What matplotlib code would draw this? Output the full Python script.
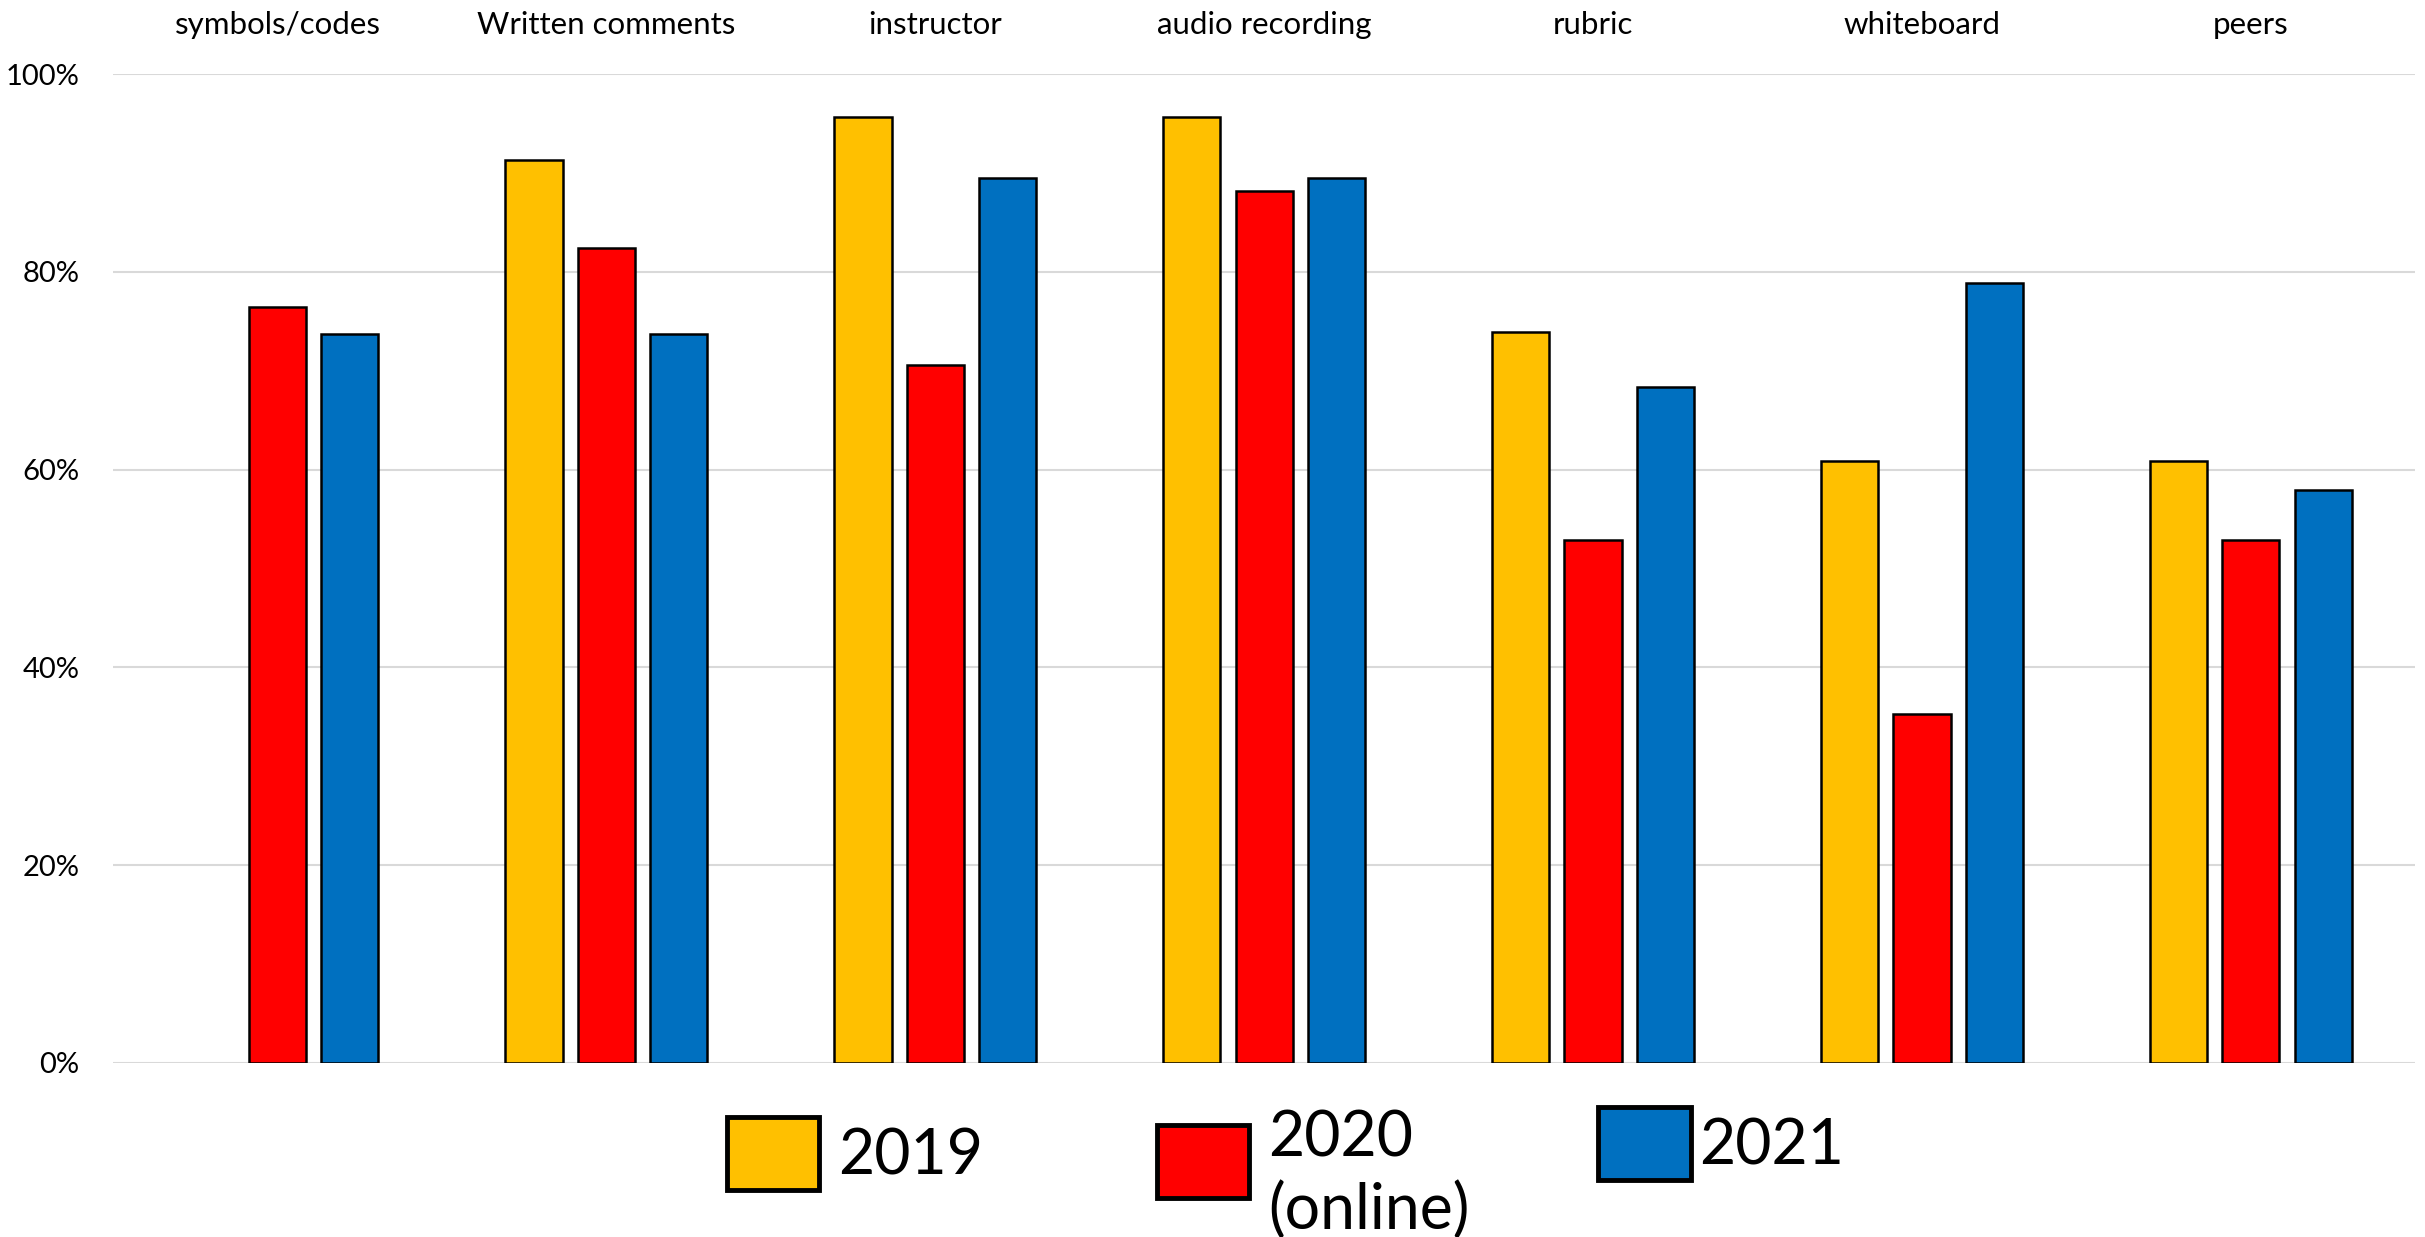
import numpy as np
import matplotlib
matplotlib.use("Agg")
import matplotlib.pyplot as plt
from matplotlib.ticker import PercentFormatter
from matplotlib.container import BarContainer
from matplotlib.patches import Rectangle
from matplotlib.legend_handler import HandlerPatch, update_from_first_child

plt.rcParams['font.family'] = ['Lato', 'DejaVu Sans']

categories = ["symbols/codes", "Written comments", "instructor", "audio recording",
              "rubric", "whiteboard", "peers"]
series_names = ["2019", "2020\n(online)", "2021"]
vals_2019 = [np.nan, 91.3, 95.7, 95.7, 73.9, 60.9, 60.9]
vals_2020 = [76.5, 82.4, 70.6, 88.2, 52.9, 35.3, 52.9]
vals_2021 = [73.7, 73.7, 89.5, 89.5, 68.4, 78.9, 57.9]
colors = ["#FFC000", "#FF0000", "#0070C0"]
yticks = [0, 20, 40, 60, 80, 100]

fig = plt.figure(figsize=(24.25, 12.37), dpi=100)
ax = fig.add_axes([0.0466, 0.1407, 0.9494, 0.7993])

x = np.arange(len(categories))
offsets = [-0.22, 0.0, 0.22]
width = 0.174
handles = []
for vals, off, col, name in zip([vals_2019, vals_2020, vals_2021], offsets, colors, series_names):
    b = ax.bar(x + off, vals, width=width, color=col, edgecolor="black", linewidth=1.8,
               label=name, zorder=3)
    handles.append(b)

ax.set_xlim(-0.5, len(categories) - 0.5)
ax.set_ylim(0, 100)
ax.set_yticks(yticks)
ax.yaxis.set_major_formatter(PercentFormatter(decimals=0))
ax.grid(axis="y", color="#D9D9D9", linewidth=1.5, zorder=0)
ax.set_axisbelow(True)
for s in ax.spines.values():
    s.set_visible(False)

ax.xaxis.tick_top()
ax.set_xticks(x)
ax.set_xticklabels(categories, fontsize=22.5)
ax.tick_params(axis="x", length=0, pad=25)
ax.tick_params(axis="y", length=0, pad=24, labelsize=21)


def make_handler(dy):
    def patch_func(legend, orig_handle, xdescent, ydescent, width, height, fontsize):
        return Rectangle((-xdescent, -ydescent + dy), width, height)
    return HandlerPatch(patch_func=patch_func, update_func=update_from_first_child)


# legend entries placed individually (Excel-like spacing)
leg_pos = [(0.2997, 0.0675, 0.3, 0.0), (0.477, 0.050, 0.3, 12.0), (0.659, 0.0756, 0.14, 0.0)]
for h, name, (lx, ly, pad, dy) in zip(handles, series_names, leg_pos):
    leg = fig.legend([h], [name], loc="center left", bbox_to_anchor=(lx, ly),
                     frameon=False, fontsize=45, handlelength=1.48, handleheight=1.42,
                     handletextpad=pad, borderpad=0, borderaxespad=0,
                     handler_map={BarContainer: make_handler(dy)})
    for p in leg.get_patches():
        p.set_linewidth(3.5)
    for t in leg.get_texts():
        t.set_linespacing(1.3)

fig.savefig("out.png", dpi=100)
